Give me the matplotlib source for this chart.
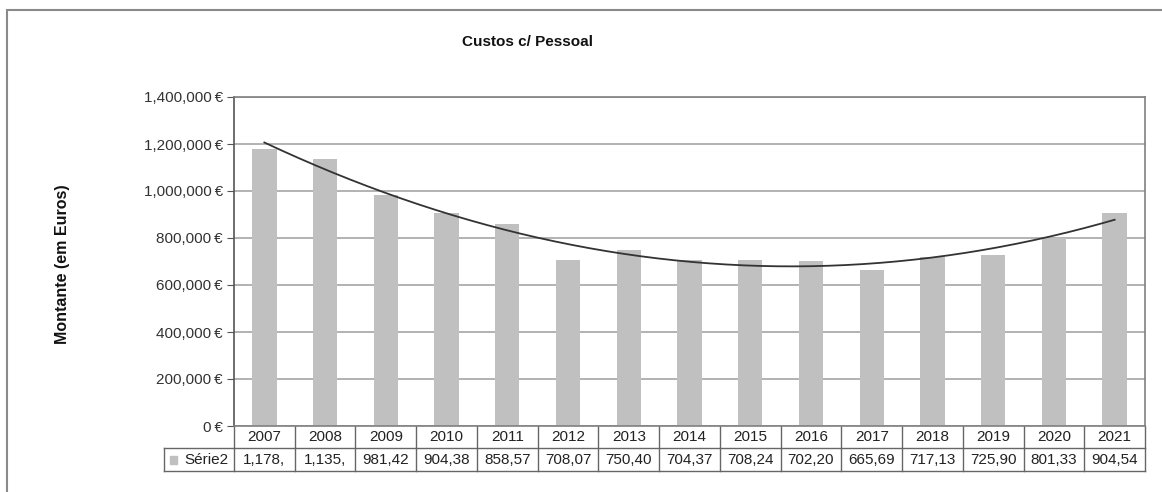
import numpy as np
import matplotlib.pyplot as plt
from matplotlib.patches import Rectangle
import matplotlib.transforms as mtransforms

# chart data
years = ['2007', '2008', '2009', '2010', '2011', '2012', '2013', '2014',
         '2015', '2016', '2017', '2018', '2019', '2020', '2021']
costs = [1178000, 1135000, 981420, 904380, 858570, 708070, 750400, 704370,
         708240, 702200, 665690, 717130, 725900, 801330, 904540]
series_name = 'Série2'
yticks = [0, 200000, 400000, 600000, 800000, 1000000, 1200000, 1400000]

plt.rcParams['font.family'] = ['Liberation Sans', 'DejaVu Sans']

W, H = 1162, 492
fig = plt.figure(figsize=(W / 100, H / 100), dpi=100)

# outer chart frame (partly cropped in the original)
fig.patches.append(Rectangle((7 / W, -0.1), 1.2, 1.1 - 10 / H, transform=fig.transFigure,
                             fill=False, edgecolor='#8a8a8a', linewidth=1.5))

left, right, top, bottom = 234, 1145, 97, 426
ax = fig.add_axes([left / W, 1 - bottom / H, (right - left) / W, (bottom - top) / H])

x = np.arange(len(years))
ax.bar(x, costs, width=0.4, color='#c0c0c0', zorder=2)

# polynomial (order 2) trend line, like the spreadsheet one
coef = np.polyfit(x, costs, 2)
xs = np.linspace(x[0], x[-1], 200)
ax.plot(xs, np.polyval(coef, xs), color='#333333', linewidth=1.3, zorder=3)

ax.set_xlim(-0.5, len(years) - 0.5)
ax.set_ylim(0, 1400000)
ax.set_yticks(yticks)
ax.set_yticklabels([f'{v:,.0f}\u2009€' for v in yticks], fontsize=11, color='#333333')
ax.set_xticks([])
ax.grid(axis='y', color='#a6a6a6', linewidth=1.2, zorder=0)
ax.tick_params(axis='y', length=5, color='#555555', pad=3)
for s in ax.spines.values():
    s.set_color('#808080')
    s.set_linewidth(1.2)
ax.spines['left'].set_color('#555555')

# data table under the chart
trans = mtransforms.blended_transform_factory(ax.transData, ax.transAxes)
row1 = -(448 - bottom) / (bottom - top)
row2 = -(471 - bottom) / (bottom - top)
tab_left = (164 - left) / (right - left)
lc = '#666666'
ax.plot([-0.5, len(years) - 0.5], [row1, row1], transform=trans, color=lc, lw=1, clip_on=False)
ax.plot([tab_left, 1], [row2, row2], transform=ax.transAxes, color=lc, lw=1, clip_on=False)
ax.plot([tab_left, tab_left], [row1, row2], transform=ax.transAxes, color=lc, lw=1, clip_on=False)
ax.plot([tab_left, 0], [row1, row1], transform=ax.transAxes, color=lc, lw=1, clip_on=False)
for i in range(len(years) + 1):
    ax.plot([i - 0.5, i - 0.5], [0, row2], transform=trans, color=lc, lw=1, clip_on=False)
for i, (yr, v) in enumerate(zip(years, costs)):
    ax.text(i, row1 / 2, yr, transform=trans, ha='center', va='center',
            fontsize=11, color='#222222')
    ax.text(i, (row1 + row2) / 2, f'{v:,.0f}'[:6], transform=trans, ha='center',
            va='center', fontsize=11, color='#222222')
ax.text(-0.006, (row1 + row2) / 2, series_name, transform=ax.transAxes, ha='right',
        va='center', fontsize=11, color='#222222')
ax.add_patch(Rectangle((tab_left + 0.007, (row1 + row2) / 2 - 0.014), 0.007, 0.026,
                       transform=ax.transAxes, color='#c0c0c0', clip_on=False))

fig.text(528 / W, 1 - 42 / H, 'Custos c/ Pessoal', ha='center', va='center',
         fontsize=11, fontweight='bold', color='#111111')
fig.text(62 / W, 1 - 264 / H, 'Montante (em Euros)', ha='center', va='center',
         rotation=90, fontsize=11.5, fontweight='bold', color='#111111')

fig.savefig('out.png', dpi=100)
